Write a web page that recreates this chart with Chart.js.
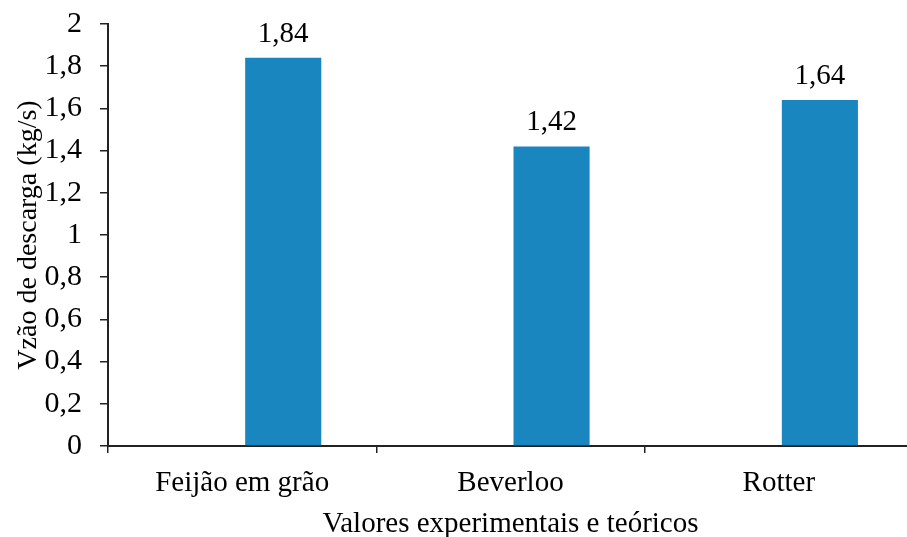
<!DOCTYPE html>
<html>
<head>
<meta charset="utf-8">
<script src="https://cdn.jsdelivr.net/npm/chart.js@4/dist/chart.umd.min.js"></script>
<style>
html,body{margin:0;padding:0;background:#fff;overflow:hidden;}
#wrap{width:920px;height:537px;}
</style>
</head>
<body>
<div id="wrap"><canvas id="c" width="920" height="537"></canvas></div>
<script>
const categories = ["Feijão em grão", "Beverloo", "Rotter"];
const values = [1.84, 1.42, 1.64];
const emptySlot = [null, null, null];
const yTitle = "Vzão de descarga (kg/s)";
const xTitle = "Valores experimentais e teóricos";

const FONT = "'Liberation Serif', 'Times New Roman', serif";
const BLUE = "#1a86c0";
const INK = "#000";
const fmt = v => Number(v.toFixed(2)).toString().replace('.', ',');

const valueLabels = {
  id: 'valueLabels',
  afterDatasetsDraw(chart) {
    const ctx = chart.ctx;
    const meta = chart.getDatasetMeta(1);
    ctx.save();
    ctx.font = "29px " + FONT;
    ctx.fillStyle = INK;
    ctx.textAlign = "center";
    ctx.textBaseline = "alphabetic";
    meta.data.forEach((el, i) => {
      ctx.fillText(fmt(values[i]), el.x, el.y - 16);
    });
    ctx.restore();
  }
};

new Chart(document.getElementById('c'), {
  type: 'bar',
  data: {
    labels: categories,
    datasets: [
      { data: emptySlot, backgroundColor: BLUE },
      { data: values, backgroundColor: BLUE }
    ]
  },
  options: {
    responsive: false,
    animation: false,
    events: [],
    layout: { padding: { top: 24, right: 7, left: 0, bottom: 0 } },
    plugins: { legend: { display: false }, tooltip: { enabled: false } },
    datasets: { bar: { categoryPercentage: 0.612, barPercentage: 0.927 } },
    scales: {
      x: {
        grid: { drawOnChartArea: false, offset: true, tickLength: 7, color: '#222', lineWidth: 1.5 },
        border: { display: true, color: '#222', width: 2 },
        ticks: { color: INK, padding: 13, font: { family: FONT, size: 29 }, maxRotation: 0 },
        title: { display: true, text: xTitle, color: INK, font: { family: FONT, size: 29, lineHeight: 0.9 }, padding: { top: 0, bottom: 0 } },
        afterFit(s) { s.height = 91; }
      },
      y: {
        min: 0, max: 2,
        grid: { drawOnChartArea: false, tickLength: 8, color: '#222', lineWidth: 1.5 },
        border: { display: true, color: '#222', width: 2 },
        ticks: { stepSize: 0.2, color: INK, padding: 18, font: { family: FONT, size: 30 }, callback: v => fmt(v) },
        title: { display: true, text: yTitle, color: INK, font: { family: FONT, size: 28 }, padding: { top: 12, bottom: 0 } },
        afterFit(s) { s.width = 108; s.paddingTop = 0; s.paddingBottom = 0; }
      }
    }
  },
  plugins: [valueLabels]
});
</script>
</body>
</html>
